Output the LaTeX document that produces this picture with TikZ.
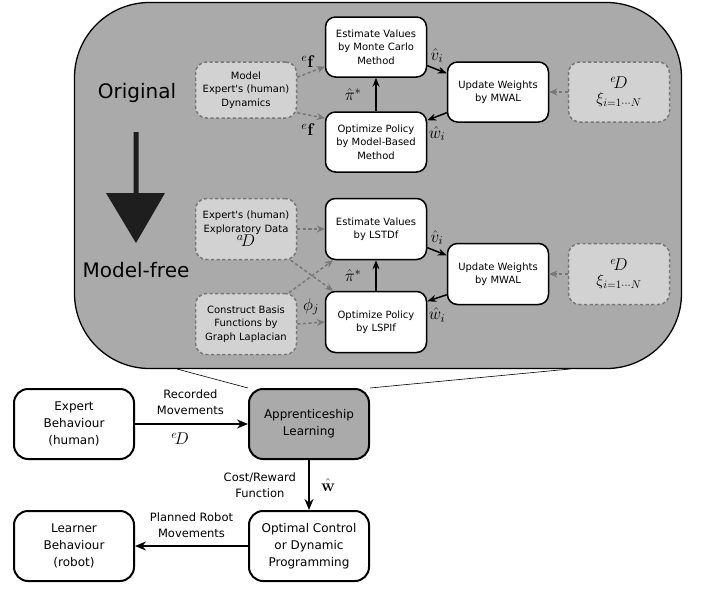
\RequirePackage{fix-cm}
\documentclass[tikz,border=0pt]{standalone}
\usepackage[no-math]{fontspec}
\setmainfont{DejaVu Sans}
\newfontfamily\plainq{DejaVu Sans}
\newcommand{\apos}{{\plainq'}}
\usepackage{amsmath,amssymb}
\usetikzlibrary{arrows.meta}
\pgfdeclarelayer{bg}
\pgfsetlayers{bg,main}
\definecolor{panelgray}{HTML}{AAAAAA}
\definecolor{dashfill}{HTML}{D2D2D2}
\definecolor{dashline}{HTML}{787878}
\definecolor{bigarrow}{HTML}{1E1E1E}
\begin{document}
\begin{tikzpicture}[x=1pt,y=-1pt,
  sbox/.style={draw=black, line width=1.5pt, fill=white, rounded corners=10pt,
    minimum width=101pt, minimum height=60pt, align=center, inner sep=1pt,
    font=\fontsize{10}{13.3}\selectfont},
  dbox/.style={draw=dashline, dash pattern=on 3.2pt off 2.4pt, line width=1.5pt,
    fill=dashfill, rounded corners=11pt, minimum width=101pt, minimum height=60pt,
    align=center, inner sep=1pt, font=\fontsize{10}{13.3}\selectfont},
  bbox/.style={draw=black, line width=2pt, fill=white, rounded corners=14pt,
    minimum width=120pt, minimum height=70pt, align=center,
    font=\fontsize{12}{17}\selectfont},
  arr/.style={-{Stealth[length=9pt,width=7pt]}, line width=1.5pt},
  barr/.style={-{Stealth[length=11pt,width=9pt]}, line width=2pt},
  darr/.style={-{Stealth[length=8pt,width=7pt]}, draw=dashline, line width=1.5pt,
    dash pattern=on 3.2pt off 2.4pt},
  elab/.style={font=\fontsize{11.5}{16}\selectfont, align=center, inner sep=0pt},
  mlab/.style={font=\fontsize{17}{19}\selectfont, inner sep=0pt},
  big/.style={font=\fontsize{20}{24}\selectfont, inner sep=0pt}
]
\useasboundingbox (0,0) rectangle (702,589);

% panel
\node[draw=black, line width=1.3pt, fill=panelgray, rounded corners=75pt,
  minimum width=607pt, minimum height=366pt, inner sep=0pt] (panel) at (378,185.5) {};

\node[big] (orig) at (137,93) {Original};
\node[big] (mfree) at (136,270) {Model-free};
\fill[bigarrow] (133.5,132) -- (138.5,132) -- (138.5,193) -- (165,193) -- (136,243)
  -- (106,193) -- (133.5,193) -- cycle;

% upper block
\node[sbox] (ev) at (376,47) {Estimate Values\\by Monte Carlo\\Method};
\node[sbox] (op) at (376,142) {Optimize Policy\\by Model-Based\\Method};
\node[dbox, minimum height=56pt] (md) at (246,90) {Model\\Expert\apos s (human)\\Dynamics};
\node[sbox] (uw) at (498,92) {Update Weights\\by MWAL};
\node[dbox] (ed) at (619,92) {\fontsize{17}{20}\selectfont $^{e}\!D$\\[2pt]
  \fontsize{16}{18}\selectfont $\xi_{i=1\cdots N}$};

\draw[darr] (md.14) -- (ev.201) node[pos=0.4, above=5pt, mlab] {$^{e}\mathbf{f}$};
\draw[darr] (md.336) -- (op.155) node[pos=0.4, below=8pt, mlab] {$^{e}\mathbf{f}$};
\draw[arr] (op.north) -- (ev.south) node[midway, left=14pt, mlab] {$\hat{\pi}^{*}$};
\draw[arr] (ev.340) -- (uw.160) node[pos=0.5, above=6pt, mlab] {$\hat{v}_{i}$};
\draw[arr] (uw.202) -- (op.23) node[pos=0.5, below=9pt, mlab] {$\hat{w}_{i}$};
\draw[darr] (ed.west) -- (uw.east);

% lower block
\node[sbox, minimum height=61pt] (lv) at (376,229) {Estimate Values\\by LSTDf};
\node[sbox, minimum height=61pt] (lp) at (376,322) {Optimize Policy\\by LSPIf};
\node[dbox, minimum height=61pt] (ex) at (246,229) {Expert\apos s (human)\\Exploratory Data\\
  \fontsize{17}{15}\selectfont $^{a}\!D$};
\node[dbox, minimum height=61pt] (cb) at (246,324) {Construct Basis\\Functions by\\Graph Laplacian};
\node[sbox, minimum height=61pt] (uw2) at (498,274) {Update Weights\\by MWAL};
\node[dbox, minimum height=61pt] (ed2) at (619,274) {\fontsize{17}{20}\selectfont $^{e}\!D$\\[2pt]
  \fontsize{16}{18}\selectfont $\xi_{i=1\cdots N}$};

\draw[darr] (ex.east) -- (lv.west);
\draw[darr] (ex.-35) -- (lp.144);
\draw[darr] (cb.36) -- (lv.216);
\draw[darr] (cb.east) -- (lp.west) node[pos=0.5, above=7pt, mlab] {$\phi_{j}$};
\draw[arr] (lp.north) -- (lv.south) node[midway, left=14pt, mlab] {$\hat{\pi}^{*}$};
\draw[arr] (lv.340) -- (uw2.160) node[pos=0.5, above=6pt, mlab] {$\hat{v}_{i}$};
\draw[arr] (uw2.202) -- (lp.22) node[pos=0.5, below=9pt, mlab] {$\hat{w}_{i}$};
\draw[darr] (ed2.west) -- (uw2.east);

% bottom diagram
\node[bbox] (eb) at (74,424) {Expert\\Behaviour\\(human)};
\node[bbox, fill=panelgray] (al) at (309,424) {Apprenticeship\\Learning};
\node[bbox] (lb) at (74,546) {Learner\\Behaviour\\(robot)};
\node[bbox] (oc) at (309,546) {Optimal Control\\or Dynamic\\Programming};

\coordinate (zl) at (177,369);
\coordinate (zr) at (570,369);
\begin{pgfonlayer}{bg}
\draw[line width=0.6pt] (zl) -- (al.north west);
\draw[line width=0.6pt] (zr) -- (al.north east);
\end{pgfonlayer}

\draw[barr] (eb.east) -- (al.west)
  node[pos=0.49, above=8pt, elab] {Recorded\\Movements}
  node[pos=0.4, below=8pt, mlab] {$^{e}\!D$};
\draw[barr] (al.south) -- (oc.north)
  node[midway, left=12pt, elab] {Cost/Reward\\Function}
  node[midway, right=11pt, mlab] {$\hat{\mathbf{w}}$};
\draw[barr] (oc.west) -- (lb.east)
  node[midway, above=7pt, elab] {Planned Robot\\Movements};
\end{tikzpicture}
\end{document}
